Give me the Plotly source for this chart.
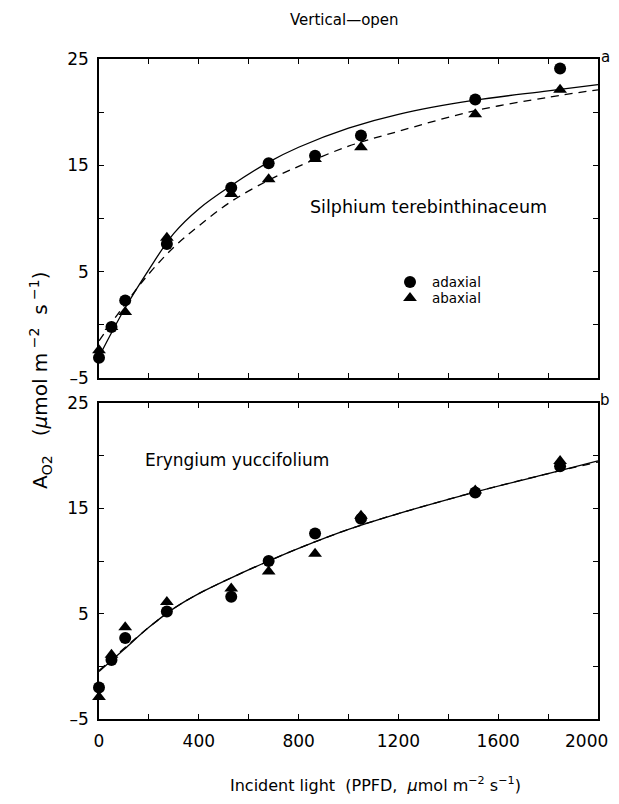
import plotly.graph_objects as go

# ---------------- data ----------------
light = [0, 50, 105, 272, 530, 680, 866, 1050, 1508, 1848]

# panel a: Silphium terebinthinaceum
sil_adaxial = [-3.1, -0.2, 2.3, 7.6, 12.9, 15.2, 15.9, 17.8, 21.2, 24.1]
sil_abaxial = [-2.4, -0.2, 1.2, 8.2, 12.3, 13.7, 15.6, 16.7, 19.8, 22.1]

# panel b: Eryngium yuccifolium
ery_adaxial = [-2.0, 0.6, 2.7, 5.2, 6.6, 10.0, 12.6, 14.0, 16.5, 19.0]
ery_abaxial = [-2.9, 1.1, 3.7, 6.1, 7.4, 9.0, 10.7, 14.3, 16.7, 19.5]

# fitted curves
fit_x = [0, 100, 200, 300, 400, 530, 680, 800, 1000, 1200, 1500, 1800, 2000]
sil_fit_adaxial = [-3.0, 1.4, 5.2, 8.6, 10.9, 13.1, 15.3, 16.7, 18.5, 19.8, 21.1, 22.0, 22.6]
sil_fit_abaxial = [-1.5, 1.8, 4.8, 7.3, 9.3, 11.6, 13.6, 14.9, 16.8, 18.2, 20.1, 21.4, 22.1]
ery_fit_adaxial = [-0.5, 1.6, 3.7, 5.5, 6.9, 8.4, 10.0, 11.2, 13.0, 14.5, 16.5, 18.3, 19.5]
ery_fit_abaxial = [-0.4, 1.7, 3.7, 5.5, 6.9, 8.4, 10.0, 11.2, 13.0, 14.5, 16.5, 18.3, 19.4]

x_tickvals = [0, 200, 400, 600, 800, 1000, 1200, 1400, 1600, 1800, 2000]
x_ticktext = ["0", "", "400", "", "800", "", "1200", "", "1600", "", ""]
x_last_label = "2000"   # drawn as annotation at x=2000 so it stays inside the page
y_tickvals = [-5, 0, 5, 10, 15, 20, 25]
y_ticktext = ["\u20135", "", "5", "", "15", "", "25"]

FONT = "DejaVu Sans"
OFF = 8              # page body margin
W, H = 619 - 2 * OFF, 804 - 2 * OFF

def px(x):
    return (x - OFF) / W

def py(y):
    return 1 - (y - OFF) / H

fig = go.Figure()

def add_panel(xa, ya, fa, fb, pa, pb):
    fig.add_trace(go.Scatter(x=fit_x, y=fa, mode="lines", xaxis=xa, yaxis=ya,
                             line=dict(color="black", width=1.3, shape="spline"),
                             showlegend=False, hoverinfo="skip"))
    fig.add_trace(go.Scatter(x=fit_x, y=fb, mode="lines", xaxis=xa, yaxis=ya,
                             line=dict(color="black", width=1.3, dash="8px,6px", shape="spline"),
                             showlegend=False, hoverinfo="skip"))
    fig.add_trace(go.Scatter(x=light, y=pb, mode="markers", xaxis=xa, yaxis=ya,
                             marker=dict(symbol="triangle-up", size=12, color="black"),
                             showlegend=False, cliponaxis=False))
    fig.add_trace(go.Scatter(x=light, y=pa, mode="markers", xaxis=xa, yaxis=ya,
                             marker=dict(symbol="circle", size=12, color="black"),
                             showlegend=False, cliponaxis=False))

add_panel("x", "y", sil_fit_adaxial, sil_fit_abaxial, sil_adaxial, sil_abaxial)
add_panel("x2", "y2", ery_fit_adaxial, ery_fit_abaxial, ery_adaxial, ery_abaxial)

# legend symbols on a hidden full-page axis
fig.add_trace(go.Scatter(x=[px(410)], y=[py(282)], xaxis="x3", yaxis="y3", mode="markers",
                         marker=dict(symbol="circle", size=12, color="black"),
                         showlegend=False, hoverinfo="skip"))
fig.add_trace(go.Scatter(x=[px(410)], y=[py(298)], xaxis="x3", yaxis="y3", mode="markers",
                         marker=dict(symbol="triangle-up", size=12, color="black"),
                         showlegend=False, hoverinfo="skip"))

TICK_SIZE = 17
tickfont = dict(size=TICK_SIZE, family=FONT, color="black")
xd = [px(99), px(598)]
common_x = dict(range=[0, 2000], tickmode="array", tickvals=x_tickvals, ticktext=x_ticktext,
                ticks="inside", ticklen=5, tickwidth=1, tickcolor="black",
                showline=True, linecolor="black", linewidth=1.5, mirror="ticks",
                showgrid=False, zeroline=False, domain=xd, automargin=False,
                tickfont=tickfont)
common_y = dict(range=[-5, 25], tickmode="array", tickvals=y_tickvals, ticktext=y_ticktext,
                ticks="inside", ticklen=5, tickwidth=1, tickcolor="black",
                showline=True, linecolor="black", linewidth=1.5, mirror="ticks",
                showgrid=False, zeroline=False, automargin=False,
                tickfont=tickfont, ticklabelstandoff=5)

fig.update_layout(
    template="none",
    width=W, height=H, autosize=False,
    margin=dict(l=0, r=0, t=0, b=0, pad=0),
    paper_bgcolor="white", plot_bgcolor="rgba(0,0,0,0)",
    font=dict(family=FONT, color="black"),
    showlegend=False,
    xaxis=dict(**common_x, anchor="y", showticklabels=False),
    xaxis2=dict(**common_x, anchor="y2", ticklabelstandoff=6),
    yaxis=dict(**common_y, anchor="x", domain=[py(378), py(59)]),
    yaxis2=dict(**common_y, anchor="x2", domain=[py(719), py(403)]),
    xaxis3=dict(domain=[0, 1], range=[0, 1], visible=False, anchor="y3", automargin=False),
    yaxis3=dict(domain=[0, 1], range=[0, 1], visible=False, anchor="x3", automargin=False),
)

ann = []
def add_text(text, x, y, size=15, xanchor="center", yanchor="middle", angle=0):
    ann.append(dict(text=text, x=px(x), y=py(y), xref="paper", yref="paper",
                    showarrow=False, xanchor=xanchor, yanchor=yanchor, textangle=angle,
                    font=dict(size=size, family=FONT, color="black")))

add_text("Vertical\u2014open", 344, 20, size=15)
add_text("a", 605, 57, size=15)
add_text("b", 605, 400, size=15)
add_text("Silphium terebinthinaceum", 308, 207, size=17.5, xanchor="left")
add_text("adaxial", 430, 282, size=13.5, xanchor="left")
add_text("abaxial", 430, 298, size=13.5, xanchor="left")
add_text("Eryngium yuccifolium", 143, 460, size=17, xanchor="left")
add_text("Incident light  (PPFD,  <i>\u03bc</i>mol m<sup>\u22122</sup> s<sup>\u22121</sup>)",
         228, 784, size=16, xanchor="left")
add_text("A<sub>O2</sub>   (<i>\u03bc</i>mol m<sup> \u22122</sup>  s<sup> \u22121</sup>)",
         40, 380, size=20, angle=-90)

# last x tick label, anchored at x = 2000 on the bottom axis, kept inside the page
ann.append(dict(text=x_last_label, x=x_tickvals[-1], xref="x2", y=py(741), yref="paper",
                showarrow=False, xanchor="right", yanchor="middle", xshift=11, borderpad=0,
                font=tickfont))
fig.update_layout(annotations=ann)

fig.write_html("out.html", config={"responsive": False})
